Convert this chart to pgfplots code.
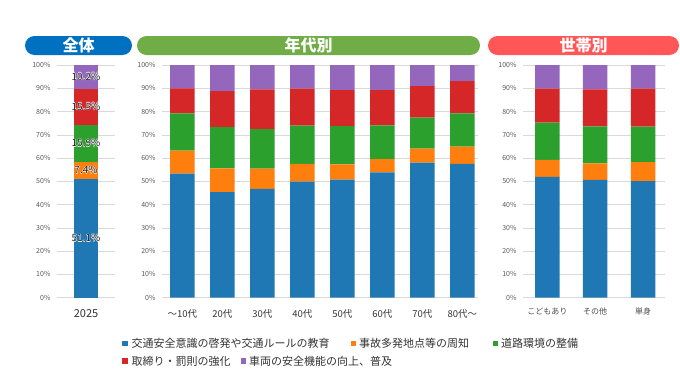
\documentclass[border=0pt]{standalone}
\usepackage{fontspec}
\setmainfont{Noto Sans CJK JP}
\usepackage{pgfplots}
\usepackage{pgfplotstable}
\pgfplotsset{compat=1.18}
\definecolor{cBlue}{HTML}{1F77B4}
\definecolor{cOrange}{HTML}{FF7F0E}
\definecolor{cGreen}{HTML}{2CA02C}
\definecolor{cRed}{HTML}{D62728}
\definecolor{cPurple}{HTML}{9467BD}
\definecolor{hBlue}{HTML}{0070C0}
\definecolor{hGreen}{HTML}{70AD47}
\definecolor{hRed}{HTML}{FF5757}
\definecolor{tgray}{HTML}{595959}
\definecolor{ggray}{HTML}{D9D9D9}

\pgfplotstableread{
x blue orange green red purple
0 51.1 7.4 15.9 15.5 10.2
}\alldata

\pgfplotstableread{
x blue orange green red purple
0 53.3 9.9 16.0 10.8 10.0
1 45.4 10.2 17.7 15.5 11.2
2 46.8 8.7 16.9 17.1 10.5
3 49.9 7.6 16.4 16.0 10.1
4 50.7 6.6 16.4 15.5 10.8
5 53.9 5.6 14.6 15.1 10.8
6 58.0 6.1 13.3 13.5 9.1
7 57.5 7.4 14.3 13.9 6.9
}\agedata

\pgfplotstableread{
x blue orange green red purple
0 51.9 7.3 16.0 14.6 10.2
1 50.6 7.1 15.9 15.9 10.5
2 50.1 8.2 15.2 16.3 10.2
}\hhdata

\pgfplotstableread{
x y lab
0 25.55 51.1
0 54.80 7.4
0 66.45 15.9
0 82.15 15.5
0 95.00 10.2
}\lbldata

\pgfplotsset{
  panel/.style={
    scale only axis, anchor=south west, height=232.7pt,
    ybar stacked, bar width=24.5pt,
    ymin=0, ymax=100, ytick={0,10,...,100},
    yticklabel={\pgfmathprintnumber{\tick}\%},
    /pgf/number format/assume math mode=true,
    yticklabel style={font=\fontsize{7}{8}\selectfont, text=tgray, xshift=-3pt},
    xticklabel style={font=\fontsize{9.5}{11}\selectfont, text=black!80, yshift=-8pt},
    xtick=data,
    ymajorgrids, grid style={ggray, line width=0.6pt},
    axis line style={draw=none},
    major tick style={draw=none},
  },
  lblaxis/.style={scale only axis, anchor=south west, at={(57pt,78.3pt)}, width=58pt,
    height=232.7pt, xmin=-0.5, xmax=0.5, ymin=0, ymax=100, hide axis,
    nodes near coords={\pgfplotspointmeta\%},
    point meta=explicit symbolic,
    every node near coord/.style={anchor=center, text=#1,
      font=\fontsize{10}{11}\selectfont, inner sep=0pt}},
  halo/.style 2 args={draw=none, mark=none,
    every node near coord/.append style={xshift=#1, yshift=#2}},
}

\begin{document}
\begin{tikzpicture}
\useasboundingbox (0,0) rectangle (680pt,376pt);

% headers
\fill[hBlue, rounded corners=9.5pt] (25pt,321pt) rectangle (132pt,340pt);
\node[text=white, font=\bfseries\fontsize{16}{16}\selectfont] at (78.5pt,330.5pt) {全体};
\fill[hGreen, rounded corners=9.5pt] (137pt,321pt) rectangle (480pt,340pt);
\node[text=white, font=\bfseries\fontsize{16}{16}\selectfont] at (308.5pt,330.5pt) {年代別};
\fill[hRed, rounded corners=9.5pt] (488pt,321pt) rectangle (679pt,340pt);
\node[text=white, font=\bfseries\fontsize{16}{16}\selectfont] at (583.5pt,330.5pt) {世帯別};

% panel 1
\begin{axis}[panel, at={(57pt,78.3pt)}, width=58pt, xmin=-0.5, xmax=0.5,
  xticklabels={2025}, bar width=24pt,
  xticklabel style={font=\fontsize{11}{12}\selectfont}]
\addplot[fill=cBlue, draw=none] table[x=x,y=blue]{\alldata};
\addplot[fill=cOrange, draw=none] table[x=x,y=orange]{\alldata};
\addplot[fill=cGreen, draw=none] table[x=x,y=green]{\alldata};
\addplot[fill=cRed, draw=none] table[x=x,y=red]{\alldata};
\addplot[fill=cPurple, draw=none] table[x=x,y=purple]{\alldata};
\end{axis}
\begin{axis}[lblaxis=white]
\addplot[halo={0.4pt}{0pt}] table[x=x,y=y,meta=lab]{\lbldata};
\addplot[halo={-0.4pt}{0pt}] table[x=x,y=y,meta=lab]{\lbldata};
\addplot[halo={0pt}{0.4pt}] table[x=x,y=y,meta=lab]{\lbldata};
\addplot[halo={0pt}{-0.4pt}] table[x=x,y=y,meta=lab]{\lbldata};
\end{axis}
\begin{axis}[lblaxis=black!85]
\addplot[draw=none, mark=none] table[x=x,y=y,meta=lab]{\lbldata};
\end{axis}

% panel 2
\begin{axis}[panel, at={(162pt,78.3pt)}, width=316pt, xmin=-0.51, xmax=7.39,
  xticklabels={〜10代,20代,30代,40代,50代,60代,70代,80代〜}]
\addplot[fill=cBlue, draw=none] table[x=x,y=blue]{\agedata};
\addplot[fill=cOrange, draw=none] table[x=x,y=orange]{\agedata};
\addplot[fill=cGreen, draw=none] table[x=x,y=green]{\agedata};
\addplot[fill=cRed, draw=none] table[x=x,y=red]{\agedata};
\addplot[fill=cPurple, draw=none] table[x=x,y=purple]{\agedata};
\end{axis}

% panel 3
\begin{axis}[panel, at={(523pt,78.3pt)}, width=142pt, xmin=-0.51, xmax=2.46,
  xticklabels={こどもあり,その他,単身},
  xticklabel style={font=\fontsize{8}{9}\selectfont, text=black!70, yshift=1pt}]
\addplot[fill=cBlue, draw=none] table[x=x,y=blue]{\hhdata};
\addplot[fill=cOrange, draw=none] table[x=x,y=orange]{\hhdata};
\addplot[fill=cGreen, draw=none] table[x=x,y=green]{\hhdata};
\addplot[fill=cRed, draw=none] table[x=x,y=red]{\hhdata};
\addplot[fill=cPurple, draw=none] table[x=x,y=purple]{\hhdata};
\end{axis}

% legend
\begin{scope}[every node/.style={anchor=west, inner sep=0pt, text=black!80,
   font=\fontsize{11}{12}\selectfont}]
\fill[cBlue] (122pt,30pt) rectangle ++(5.5pt,5.5pt);
\node at (131.5pt,32.7pt) {交通安全意識の啓発や交通ルールの教育};
\fill[cOrange] (350.7pt,30pt) rectangle ++(5.5pt,5.5pt);
\node at (359pt,32.7pt) {事故多発地点等の周知};
\fill[cGreen] (492.7pt,30pt) rectangle ++(5.5pt,5.5pt);
\node at (501pt,32.7pt) {道路環境の整備};
\fill[cRed] (122pt,12.3pt) rectangle ++(5.5pt,5.5pt);
\node at (131.5pt,15pt) {取締り・罰則の強化};
\fill[cPurple] (240.7pt,12.3pt) rectangle ++(5.5pt,5.5pt);
\node at (249pt,15pt) {車両の安全機能の向上、普及};
\end{scope}
\end{tikzpicture}
\end{document}
